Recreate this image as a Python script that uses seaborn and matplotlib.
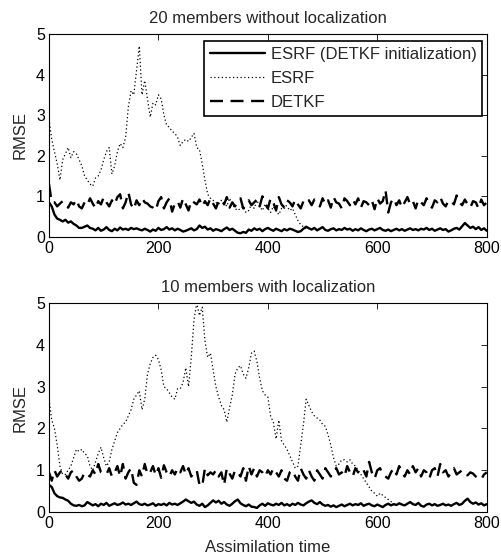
import numpy as np
import pandas as pd
import matplotlib
matplotlib.use("Agg")
import matplotlib.pyplot as plt
import seaborn as sns

# assimilation time grid (every 5 steps)
time = np.arange(0, 801, 5)

# --- 20 members without localization ---
top_esrf_init = [
    0.85, 0.75, 0.55, 0.45, 0.42, 0.38, 0.42, 0.35, 0.38, 0.32, 0.28, 0.22, 0.22, 0.25, 0.28, 0.22,
    0.20, 0.16, 0.22, 0.15, 0.18, 0.24, 0.17, 0.14, 0.20, 0.16, 0.23, 0.18, 0.20, 0.17, 0.22, 0.19,
    0.21, 0.18, 0.16, 0.20, 0.17, 0.13, 0.18, 0.15, 0.22, 0.17, 0.19, 0.24, 0.18, 0.21, 0.16, 0.20,
    0.17, 0.13, 0.15, 0.18, 0.21, 0.16, 0.19, 0.28, 0.22, 0.25, 0.18, 0.21, 0.15, 0.19, 0.17, 0.14,
    0.19, 0.23, 0.17, 0.20, 0.15, 0.10, 0.09, 0.12, 0.10, 0.18, 0.15, 0.21, 0.17, 0.20, 0.14, 0.19,
    0.22, 0.18, 0.15, 0.20, 0.17, 0.14, 0.19, 0.16, 0.20, 0.18, 0.15, 0.12, 0.14, 0.20, 0.25, 0.21,
    0.18, 0.22, 0.16, 0.20, 0.24, 0.17, 0.15, 0.19, 0.21, 0.16, 0.19, 0.17, 0.22, 0.18, 0.20, 0.15,
    0.19, 0.16, 0.21, 0.17, 0.14, 0.18, 0.20, 0.16, 0.19, 0.22, 0.17, 0.15, 0.18, 0.14, 0.17, 0.20,
    0.16, 0.19, 0.15, 0.18, 0.21, 0.17, 0.19, 0.16, 0.20, 0.18, 0.22, 0.17, 0.20, 0.15, 0.18, 0.21,
    0.17, 0.19, 0.13, 0.16, 0.20, 0.22, 0.18, 0.26, 0.34, 0.28, 0.22, 0.25, 0.19, 0.24, 0.17, 0.21,
    0.15,
]
top_detkf = [
    1.30, 0.85, 0.85, 0.75, 0.82, 0.88, 0.78, 0.72, 0.85, 0.80, 0.92, 0.75, 0.70, 0.85, 0.78, 0.95,
    0.82, 0.70, 0.88, 0.80, 0.98, 0.85, 0.75, 0.90, 0.80, 0.98, 1.05, 0.70, 0.85, 1.10, 0.80, 0.68,
    0.90, 0.78, 0.95, 0.85, 0.82, 0.75, 0.72, 0.65, 0.88, 0.98, 0.70, 0.85, 0.95, 0.62, 0.82, 0.88,
    0.72, 0.95, 0.80, 0.65, 0.90, 0.85, 0.80, 0.92, 0.75, 0.88, 0.78, 0.95, 0.82, 0.70, 0.88, 0.92,
    0.80, 0.98, 0.72, 0.85, 0.75, 0.88, 0.95, 0.70, 0.82, 0.90, 0.78, 0.85, 0.92, 0.75, 1.00, 0.82,
    0.70, 0.95, 0.85, 0.65, 0.98, 0.80, 0.72, 0.90, 0.85, 0.75, 0.92, 0.80, 0.70, 0.88, 0.82, 0.90,
    0.78, 0.92, 0.85, 0.75, 0.95, 0.80, 0.90, 0.72, 0.98, 0.85, 0.82, 0.70, 0.95, 0.88, 0.78, 0.92,
    0.80, 0.95, 0.72, 0.88, 0.85, 0.78, 0.90, 0.68, 0.95, 0.82, 0.88, 1.15, 0.60, 0.85, 0.95, 0.78,
    0.90, 0.72, 0.85, 0.98, 0.80, 0.88, 0.70, 0.92, 0.85, 0.78, 0.95, 0.80, 0.72, 0.90, 0.85, 0.98,
    0.82, 0.75, 0.90, 0.88, 0.80, 1.02, 0.85, 0.78, 0.92, 0.80, 0.72, 0.88, 0.85, 0.70, 0.92, 0.78,
    0.85,
]
# ESRF is visible up to t=470, after that it sits under the solid curve
top_esrf = [
    2.90, 2.40, 2.10, 1.80, 1.40, 1.90, 2.05, 2.20, 1.95, 2.10, 2.05, 1.90, 1.75, 1.50, 1.40, 1.30,
    1.25, 1.45, 1.50, 1.65, 1.90, 2.10, 2.20, 1.55, 1.75, 2.10, 2.30, 2.20, 2.45, 3.20, 3.60, 3.50,
    4.10, 4.70, 3.50, 3.85, 3.40, 2.95, 3.30, 3.25, 3.50, 3.40, 3.00, 2.75, 2.70, 2.60, 2.55, 2.45,
    2.25, 2.35, 2.40, 2.35, 2.45, 2.55, 2.20, 2.15, 1.80, 1.40, 1.05, 0.95, 0.90, 0.85, 0.80, 0.90,
    0.85, 0.75, 0.95, 0.80, 0.70, 0.65, 0.70, 0.75, 0.60, 0.65, 0.80, 0.70, 0.90, 0.75, 0.65, 0.80,
    0.70, 0.60, 0.75, 0.65, 0.55, 0.70, 0.80, 0.75, 0.65, 0.70, 0.55, 0.40, 0.30, 0.25, 0.20,
]

# --- 10 members with localization ---
bot_esrf_init = [
    0.65, 0.60, 0.45, 0.38, 0.35, 0.34, 0.30, 0.27, 0.20, 0.16, 0.15, 0.17, 0.14, 0.16, 0.24, 0.20,
    0.16, 0.19, 0.14, 0.20, 0.17, 0.22, 0.15, 0.18, 0.21, 0.17, 0.19, 0.23, 0.18, 0.20, 0.17, 0.21,
    0.25, 0.19, 0.17, 0.20, 0.16, 0.18, 0.21, 0.15, 0.19, 0.17, 0.20, 0.16, 0.22, 0.18, 0.20, 0.17,
    0.21, 0.25, 0.30, 0.26, 0.22, 0.25, 0.18, 0.15, 0.20, 0.12, 0.16, 0.22, 0.28, 0.23, 0.27, 0.20,
    0.24, 0.18, 0.15, 0.20, 0.26, 0.30, 0.21, 0.17, 0.14, 0.18, 0.13, 0.12, 0.10, 0.16, 0.20, 0.15,
    0.21, 0.18, 0.16, 0.20, 0.17, 0.22, 0.16, 0.19, 0.15, 0.20, 0.17, 0.22, 0.18, 0.16, 0.21, 0.25,
    0.28, 0.22, 0.19, 0.24, 0.18, 0.15, 0.17, 0.13, 0.16, 0.12, 0.15, 0.18, 0.14, 0.17, 0.20, 0.16,
    0.19, 0.17, 0.21, 0.15, 0.18, 0.20, 0.16, 0.14, 0.18, 0.15, 0.12, 0.17, 0.20, 0.16, 0.19, 0.17,
    0.21, 0.18, 0.16, 0.20, 0.24, 0.19, 0.17, 0.22, 0.15, 0.13, 0.18, 0.20, 0.16, 0.19, 0.15, 0.17,
    0.20, 0.16, 0.18, 0.15, 0.19, 0.22, 0.17, 0.20, 0.27, 0.32, 0.24, 0.20, 0.23, 0.18, 0.21, 0.16,
    0.19,
]
bot_detkf = [
    0.95, 0.75, 1.00, 0.85, 0.95, 1.00, 0.90, 0.80, 0.95, 1.00, 0.85, 0.75, 0.80, 0.95, 0.90, 0.85,
    1.00, 0.90, 1.15, 0.95, 0.92, 0.90, 1.05, 0.85, 0.95, 1.10, 0.85, 1.15, 0.80, 0.95, 1.05, 0.70,
    0.65, 1.00, 0.85, 1.15, 0.90, 0.95, 1.10, 0.88, 1.05, 0.82, 1.12, 0.95, 0.85, 1.00, 0.90, 1.05,
    0.95, 1.10, 0.90, 1.05, 0.85, 0.95, 1.00, 0.65, 0.62, 1.05, 0.88, 0.95, 0.90, 1.00, 0.85, 0.95,
    0.65, 1.05, 0.92, 0.80, 1.00, 0.95, 0.85, 1.05, 0.75, 1.10, 0.90, 1.05, 0.85, 1.00, 0.95, 0.85,
    1.00, 0.90, 1.05, 0.95, 0.85, 1.00, 0.80, 0.75, 0.95, 1.00, 0.85, 0.75, 1.05, 0.90, 0.80, 1.00,
    0.85, 0.75, 1.00, 0.90, 0.80, 1.05, 0.95, 0.85, 1.00, 1.05, 0.90, 0.95, 0.85, 1.10, 0.95, 0.85,
    1.05, 0.95, 0.90, 1.00, 0.85, 1.20, 0.95, 0.80, 1.00, 1.05, 0.90, 0.85, 0.80, 0.95, 1.05, 0.90,
    1.10, 0.95, 0.85, 1.00, 0.90, 1.10, 0.95, 1.05, 0.85, 1.00, 0.95, 0.80, 1.00, 1.05, 0.85, 1.15,
    0.95, 1.00, 0.85, 0.95, 1.05, 0.90, 0.95, 1.00, 0.90, 0.88, 0.95, 0.92, 0.85, 0.80, 0.78, 0.90,
    0.95,
]
# ESRF is visible up to t=630
bot_esrf = [
    2.70, 2.20, 2.00, 1.60, 1.10, 0.90, 0.90, 1.00, 1.10, 1.30, 1.50, 1.45, 1.50, 1.40, 1.35, 1.10,
    1.00, 1.20, 1.40, 1.55, 1.30, 1.10, 1.20, 1.50, 1.70, 1.90, 2.00, 2.10, 2.15, 2.30, 2.45, 2.70,
    2.80, 2.90, 2.45, 2.70, 3.30, 3.55, 3.70, 3.75, 3.65, 3.40, 3.00, 2.95, 2.85, 2.75, 2.70, 2.95,
    2.95, 3.10, 3.45, 3.00, 3.70, 4.60, 5.00, 4.70, 4.90, 4.10, 3.70, 3.80, 3.40, 3.00, 2.75, 2.55,
    2.45, 2.15, 2.50, 2.80, 3.30, 3.45, 3.50, 3.30, 3.20, 3.45, 3.80, 3.85, 3.60, 3.20, 2.90, 2.80,
    2.75, 2.30, 2.15, 1.75, 2.20, 1.70, 1.60, 1.50, 1.35, 1.20, 1.05, 1.10, 1.60, 2.10, 2.70, 2.55,
    2.40, 2.30, 2.25, 2.20, 2.10, 2.05, 1.85, 1.60, 1.30, 1.10, 1.15, 1.25, 1.25, 1.20, 1.25, 1.15,
    1.10, 1.00, 0.90, 0.80, 0.70, 0.60, 0.50, 0.45, 0.38, 0.45, 0.40, 0.35, 0.30, 0.25, 0.20,
]

labels = ["ESRF (DETKF initialization)", "ESRF", "DETKF"]

sns.set_style("white")
plt.rcParams["font.family"] = ["Liberation Sans", "DejaVu Sans"]

fig = plt.figure(figsize=(5.02, 5.56), dpi=100)
ax1 = fig.add_axes([0.0976, 0.574, 0.872, 0.365])
ax2 = fig.add_axes([0.0976, 0.079, 0.872, 0.376])

panels = [
    (ax1, top_esrf_init, top_esrf, top_detkf, "20 members without localization"),
    (ax2, bot_esrf_init, bot_esrf, bot_detkf, "10 members with localization"),
]

for ax, solid, dotted, dashed, title in panels:
    df = pd.DataFrame({"time": time, "solid": solid, "dashed": dashed})
    df_dot = pd.DataFrame({"time": time[:len(dotted)], "dotted": dotted})
    sns.lineplot(data=df, x="time", y="solid", ax=ax, color="black", lw=1.7,
                 label=labels[0], zorder=4)
    sns.lineplot(data=df_dot, x="time", y="dotted", ax=ax, color="black", lw=0.9,
                 linestyle=(0, (1, 2)), label=labels[1], zorder=3)
    sns.lineplot(data=df, x="time", y="dashed", ax=ax, color="black", lw=1.7,
                 linestyle=(0, (5.5, 3.2)), label=labels[2], zorder=2)
    ax.set_xlim(0, 800)
    ax.set_ylim(0, 5)
    ax.set_xticks([0, 200, 400, 600, 800])
    ax.set_yticks([0, 1, 2, 3, 4, 5])
    ax.tick_params(direction="in", top=True, right=True, length=4, width=0.6,
                   labelsize=11.5, colors="black", pad=3)
    for sp in ax.spines.values():
        sp.set_color("black")
        sp.set_linewidth(0.8)
    ax.set_title(title, fontsize=12, pad=8)
    ax.set_ylabel("RMSE", fontsize=12, labelpad=6)
    ax.set_xlabel("")

leg = ax1.legend(loc="upper right", bbox_to_anchor=(0.99, 0.965), fontsize=12,
                 handlelength=3.3, handletextpad=0.35, labelspacing=0.55,
                 borderpad=0.35, borderaxespad=0, frameon=True, fancybox=False,
                 framealpha=1, edgecolor="black")
leg.get_frame().set_linewidth(1.2)
ax2.get_legend().remove()
ax2.set_xlabel("Assimilation time", fontsize=12, labelpad=6)

fig.savefig("out.png", dpi=100)
